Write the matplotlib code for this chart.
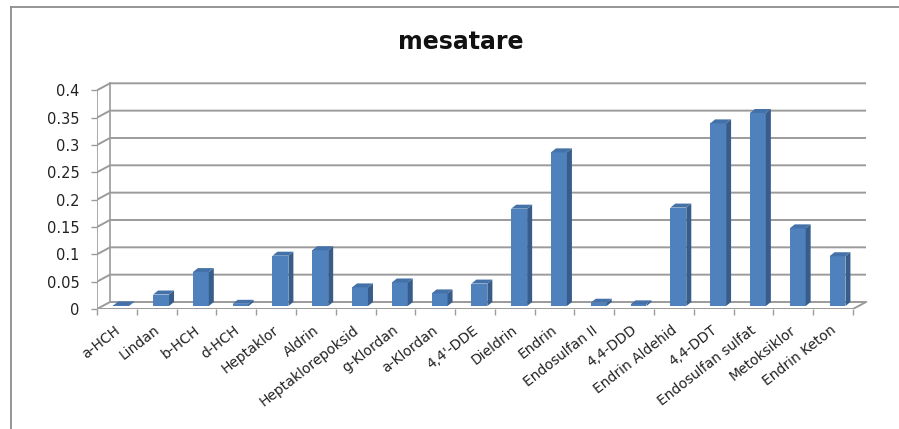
import matplotlib
matplotlib.use("Agg")
import matplotlib.pyplot as plt
from matplotlib.patches import Polygon
from matplotlib.lines import Line2D

# ── Data ──────────────────────────────────────────────────────────────────────
categories = ["a-HCH", "Lindan", "b-HCH", "d-HCH", "Heptaklor", "Aldrin",
              "Heptaklorepoksid", "g-Klordan", "a-Klordan", "4,4'-DDE",
              "Dieldrin", "Endrin", "Endosulfan II", "4,4-DDD",
              "Endrin Aldehid", "4,4-DDT", "Endosulfan sulfat", "Metoksiklor",
              "Endrin Keton"]
values = [0.001, 0.021, 0.062, 0.004, 0.092, 0.102, 0.034, 0.043, 0.023,
          0.041, 0.178, 0.281, 0.006, 0.003, 0.180, 0.334, 0.353, 0.142,
          0.091]
yticks = [0, 0.05, 0.1, 0.15, 0.2, 0.25, 0.3, 0.35, 0.4]
ytick_labels = ["0", "0.05", "0.1", "0.15", "0.2", "0.25", "0.3", "0.35", "0.4"]
title = "mesatare"

# ── Style ─────────────────────────────────────────────────────────────────────
plt.rcParams["font.family"] = ["DejaVu Sans"]
FRONT = "#4F81BD"
SIDE = "#385D8A"
TOP = "#4472A8"
GRID = "#9B9B9B"

W, H = 899, 429
fig = plt.figure(figsize=(W / 100, H / 100), dpi=100)

# pixel layout of the plot area (front axis 0 at y=309, categories 97..853)
left_px, right_px, bottom_px, top_px = 97, 870, 309, 75
cat_px = (853 - 97) / len(categories)
unit_px = 218.7 / 0.4
ax = fig.add_axes([left_px / W, (H - bottom_px) / H,
                   (right_px - left_px) / W, (bottom_px - top_px) / H])
n = len(categories)
ax.set_xlim(-0.5, -0.5 + (right_px - left_px) / cat_px)
ax.set_ylim(0, (bottom_px - top_px) / unit_px)
for s in ax.spines.values():
    s.set_visible(False)

# depth of the back wall / floor
dxc = 13 / cat_px
dyv = 7 / unit_px
x_end = n - 0.5

# back wall gridlines with diagonals from front axis
for t in yticks:
    ax.plot([-0.5, -0.5 + dxc, x_end + dxc], [t, t + dyv, t + dyv],
            color=GRID, lw=1.4, solid_capstyle="butt", zorder=1)
ax.plot([-0.5 + dxc, -0.5 + dxc], [dyv, yticks[-1] + dyv], color=GRID, lw=1.2, zorder=1)
ax.plot([-0.5, -0.5], [0, yticks[-1]], color=GRID, lw=1.2, zorder=1)
ax.plot([-0.5, x_end, x_end + dxc], [0, 0, dyv], color=GRID, lw=1.4, zorder=1)

# bars with a fake 3D look
bw = 0.4
sx = 0.11
sy = 3 / unit_px
ddx = 5 / cat_px
ddy = 4 / unit_px
for i, v in enumerate(values):
    x0 = i + sx - bw / 2
    x1 = x0 + bw
    y0 = sy
    ax.bar(i + sx, v, width=bw, bottom=y0, color=FRONT, edgecolor="none", zorder=3)
    ax.add_patch(Polygon([(x1, y0), (x1 + ddx, y0 + ddy), (x1 + ddx, y0 + v + ddy),
                          (x1, y0 + v)], closed=True, facecolor=SIDE,
                         edgecolor="none", zorder=3))
    ax.add_patch(Polygon([(x0, y0 + v), (x0 + ddx, y0 + v + ddy),
                          (x1 + ddx, y0 + v + ddy), (x1, y0 + v)], closed=True,
                         facecolor=TOP, edgecolor="none", zorder=3))

# ticks
ax.set_yticks(yticks)
ax.set_yticklabels(ytick_labels, fontsize=10.5, color="#222222")
ax.tick_params(axis="y", length=4.5, width=1, color=GRID, pad=8)
ax.set_xticks([i + 0.03 for i in range(n)])
ax.set_xticklabels(categories, rotation=38, ha="right", va="center",
                   rotation_mode="anchor", fontsize=10, color="#222222")
ax.tick_params(axis="x", length=0, pad=14)
ax.set_xticks([i - 0.5 for i in range(n + 1)], minor=True)
ax.tick_params(axis="x", which="minor", length=4.5, width=1, color=GRID)

# title
fig.text(461 / W, 1 - 42 / H, title, ha="center", va="center",
         fontsize=17, fontweight="bold", color="#111111")

# chart area border (top and left visible)
fig.add_artist(Line2D([11 / W, 11 / W], [0, 1 - 7 / H], transform=fig.transFigure,
                      color="#8C8C8C", lw=1.3))
fig.add_artist(Line2D([11 / W, 1], [1 - 7 / H, 1 - 7 / H], transform=fig.transFigure,
                      color="#8C8C8C", lw=1.3))

fig.savefig("out.png", dpi=100)
